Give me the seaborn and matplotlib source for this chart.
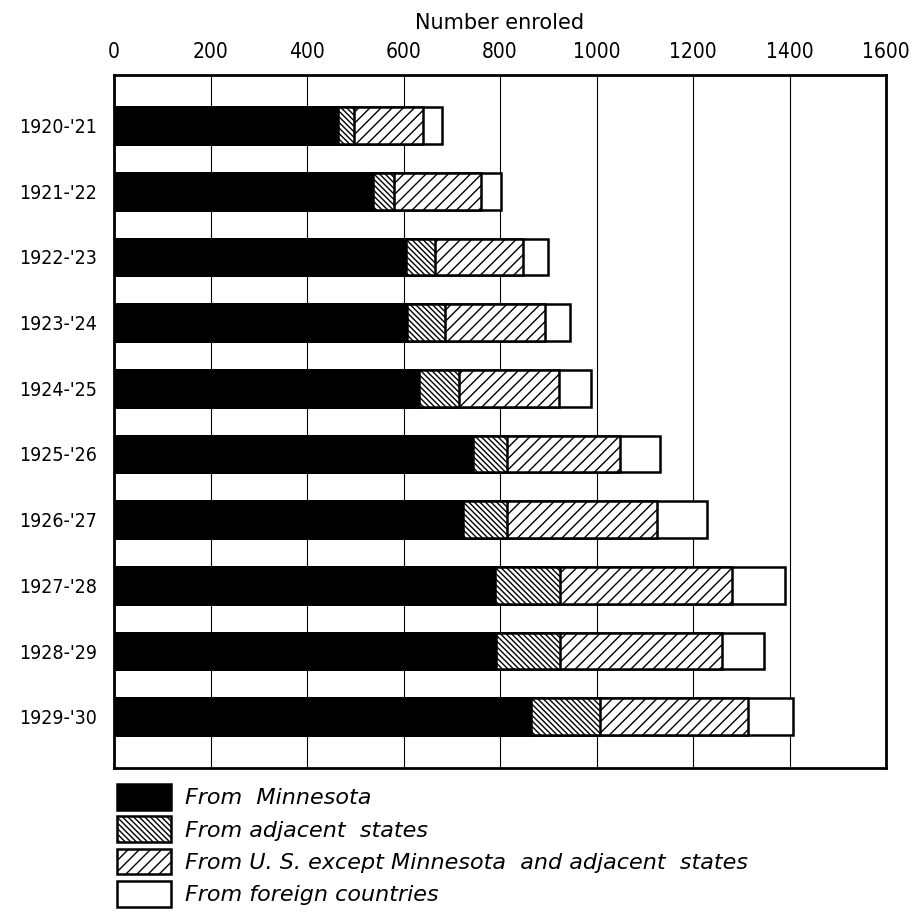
import numpy as np
import pandas as pd
import matplotlib
matplotlib.use("Agg")
import matplotlib.pyplot as plt
import matplotlib.patches as mpatches
import seaborn as sns

# -------------------------------------------------------
# Data
# -------------------------------------------------------

years = ["1920-'21", "1921-'22", "1922-'23", "1923-'24", "1924-'25",
         "1925-'26", "1926-'27", "1927-'28", "1928-'29", "1929-'30"]

minnesota = [464, 536, 606, 607, 632, 745, 723, 790, 792, 864]
adjacent = [33, 44, 60, 79, 82, 70, 92, 134, 132, 143]
us_other = [143, 180, 182, 207, 209, 233, 311, 356, 337, 307]
foreign = [39, 42, 51, 51, 66, 83, 103, 110, 85, 93]

labels = ["From  Minnesota",
          "From adjacent  states",
          "From U. S. except Minnesota  and adjacent  states",
          "From foreign countries"]

xticks = [0, 200, 400, 600, 800, 1000, 1200, 1400, 1600]

# -------------------------------------------------------
# Style
# -------------------------------------------------------

sns.set_style("white")
plt.rcParams["font.family"] = ["DejaVu Sans"]
plt.rcParams["hatch.linewidth"] = 1.0
plt.rcParams["hatch.color"] = "black"
plt.rcParams["text.color"] = "black"
plt.rcParams["axes.labelcolor"] = "black"
plt.rcParams["xtick.color"] = "black"
plt.rcParams["ytick.color"] = "black"

df = pd.DataFrame({
    "Year": years,
    "Minnesota": minnesota,
    "Adjacent": adjacent,
    "US": us_other,
    "Foreign": foreign,
})

# cumulative ends for stacking (draw longest first)
df["c1"] = df["Minnesota"]
df["c2"] = df["c1"] + df["Adjacent"]
df["c3"] = df["c2"] + df["US"]
df["c4"] = df["c3"] + df["Foreign"]

fig = plt.figure(figsize=(9.23, 9.11), dpi=100)
ax = fig.add_axes([0.1235, 0.157, 0.8365, 0.7607])

layers = [
    ("c4", "white", ""),
    ("c3", "white", "///"),
    ("c2", "white", "\\\\\\\\\\\\"),
    ("c1", "black", ""),
]

for col, face, hatch in layers:
    sns.barplot(
        data=df,
        x=col,
        y="Year",
        orient="h",
        color=face,
        edgecolor="black",
        linewidth=1.8,
        width=0.56,
        hatch=hatch,
        errorbar=None,
        saturation=1,
        ax=ax,
        zorder=3,
    )

# -------------------------------------------------------
# Axes
# -------------------------------------------------------

ax.set_xlim(0, 1600)
ax.set_ylim(len(years) - 1 + 0.78, -0.77)
ax.set_xticks(xticks)
ax.xaxis.tick_top()
ax.xaxis.set_label_position("top")
ax.set_xlabel("Number enroled", fontsize=15, labelpad=10)
ax.set_ylabel("")
ax.tick_params(axis="x", length=0, pad=9, labelsize=15)
ax.tick_params(axis="y", length=0, pad=12, labelsize=14)

for lab in ax.get_xticklabels() + ax.get_yticklabels():
    lab.set_fontstretch("condensed")

ax.grid(axis="x", color="black", linewidth=0.8, zorder=0)
ax.grid(axis="y", visible=False)
for s in ax.spines.values():
    s.set_visible(True)
    s.set_color("black")
    s.set_linewidth(2)

# -------------------------------------------------------
# Legend
# -------------------------------------------------------

handles = [
    mpatches.Patch(facecolor="black", edgecolor="black", linewidth=1.8),
    mpatches.Patch(facecolor="white", edgecolor="black", linewidth=1.8, hatch="\\\\\\\\\\\\"),
    mpatches.Patch(facecolor="white", edgecolor="black", linewidth=1.8, hatch="///"),
    mpatches.Patch(facecolor="white", edgecolor="black", linewidth=1.8),
]

fig.legend(
    handles,
    labels,
    loc="upper left",
    bbox_to_anchor=(117 / 923, 1 - 784 / 911),
    frameon=False,
    prop={"size": 16, "style": "italic"},
    handlelength=2.45,
    handleheight=1.4,
    handletextpad=0.6,
    labelspacing=0.3,
    borderpad=0,
    borderaxespad=0,
)

plt.savefig("out.png", dpi=100)
plt.close()
